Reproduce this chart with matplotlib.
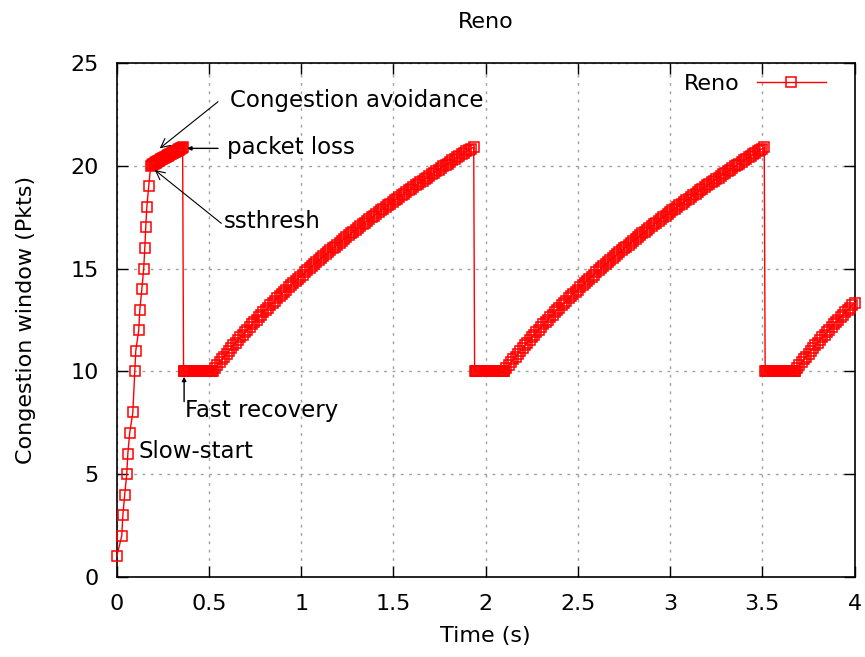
import numpy as np
import matplotlib.pyplot as plt

# slow-start samples (time in s, cwnd in packets)
ss_time = [0.0, 0.027, 0.033, 0.043, 0.054, 0.060, 0.070, 0.087, 0.098, 0.103,
           0.119, 0.125, 0.136, 0.146, 0.152, 0.157, 0.163, 0.173, 0.184]
ss_cwnd = [1, 2, 3, 4, 5, 6, 7, 8, 10, 11, 12, 13, 14, 15, 16, 17, 18, 19, 20]

# first congestion avoidance phase, sampled every 5 ms from t = 0.19 s
ca0_start, ca0_step = 0.19, 0.005
ca0_cwnd = [20.05, 20.07, 20.10, 20.12, 20.15, 20.17, 20.20, 20.22, 20.25, 20.28,
            20.31, 20.33, 20.36, 20.38, 20.41, 20.43, 20.46, 20.48, 20.51, 20.53,
            20.56, 20.58, 20.61, 20.63, 20.66, 20.68, 20.71, 20.73, 20.76, 20.78,
            20.81, 20.83, 20.86, 20.88]

# loss events: time of drop, time fast recovery ends
loss_time = [0.357, 1.935, 3.510]
recovery_end = [0.52, 2.10, 3.675]
sim_end = 4.0
peak_cwnd = 20.9
recovery_cwnd = 10

# cwnd during congestion avoidance, sampled every 12.5 ms after recovery
ramp_step = 0.0125
ramp_cwnd = [10.00, 10.15, 10.29, 10.44, 10.58, 10.72, 10.86, 11.00, 11.13, 11.27,
             11.40, 11.53, 11.65, 11.78, 11.91, 12.03, 12.16, 12.28, 12.40, 12.52,
             12.64, 12.76, 12.87, 12.99, 13.10, 13.22, 13.33, 13.44, 13.55, 13.66,
             13.77, 13.88, 13.98, 14.09, 14.20, 14.30, 14.41, 14.51, 14.61, 14.71,
             14.81, 14.91, 15.01, 15.11, 15.21, 15.31, 15.41, 15.50, 15.60, 15.69,
             15.79, 15.88, 15.98, 16.07, 16.16, 16.26, 16.35, 16.44, 16.53, 16.62,
             16.71, 16.80, 16.89, 16.97, 17.06, 17.15, 17.24, 17.32, 17.41, 17.49,
             17.58, 17.66, 17.75, 17.83, 17.92, 18.00, 18.08, 18.16, 18.25, 18.33,
             18.41, 18.49, 18.57, 18.65, 18.73, 18.81, 18.89, 18.97, 19.05, 19.12,
             19.20, 19.28, 19.36, 19.43, 19.51, 19.59, 19.66, 19.74, 19.82, 19.89,
             19.97, 20.04, 20.11, 20.19, 20.26, 20.34, 20.41, 20.48, 20.56, 20.63,
             20.70, 20.77, 20.84]


def build_trace():
    t = list(ss_time)
    w = list(ss_cwnd)
    t += [ca0_start + i * ca0_step for i in range(len(ca0_cwnd))]
    w += ca0_cwnd
    t.append(loss_time[0])
    w.append(peak_cwnd)
    for i, (tl, tr) in enumerate(zip(loss_time, recovery_end)):
        # window halves and stays flat during fast recovery
        plateau = np.arange(tl + 0.005, tr, 0.005)
        t += list(plateau)
        w += [recovery_cwnd] * len(plateau)
        for k, cw in enumerate(ramp_cwnd):
            tk = tr + k * ramp_step
            if tk > sim_end + 1e-9:
                break
            t.append(tk)
            w.append(cw)
        if i + 1 < len(loss_time):
            t.append(loss_time[i + 1])
            w.append(peak_cwnd)
    return np.array(t), np.array(w)


plt.rcParams["font.family"] = "DejaVu Sans"
plt.rcParams["font.size"] = 16

fig, ax = plt.subplots(figsize=(8.65, 6.57), dpi=100)
fig.subplots_adjust(left=0.135, right=0.988, top=0.904, bottom=0.122)

t, w = build_trace()
ax.plot(t, w, color="red", lw=1.0, marker="s", markersize=6.8,
        markerfacecolor="none", markeredgecolor="red", markeredgewidth=1.1,
        label="Reno", clip_on=False, zorder=3)

ax.set_xlim(0, 4)
ax.set_ylim(0, 25)
ax.set_xticks([0, 0.5, 1, 1.5, 2, 2.5, 3, 3.5, 4])
ax.set_xticklabels(["0", "0.5", "1", "1.5", "2", "2.5", "3", "3.5", "4"])
ax.set_yticks([0, 5, 10, 15, 20, 25])
ax.tick_params(direction="in", length=8, width=1, top=True, right=True)
ax.tick_params(axis="x", pad=12)
ax.tick_params(axis="y", pad=13)
for s in ax.spines.values():
    s.set_linewidth(1.2)
ax.grid(True, linestyle=(0, (2, 4)), color="#a0a0a0", lw=1)

ax.set_title("Reno", fontsize=16, pad=25)
ax.set_xlabel("Time (s)", labelpad=9)
ax.set_ylabel("Congestion window (Pkts)", labelpad=25)

ax.legend(loc="upper right", bbox_to_anchor=(0.973, 0.997), borderaxespad=0,
          frameon=False, markerfirst=False, handlelength=3.1)

# annotations
arrow_open = dict(arrowstyle="->", color="black", lw=0.8, shrinkA=0, shrinkB=0)
arrow_fill = dict(arrowstyle="-|>", color="black", lw=1.0, shrinkA=0, shrinkB=0,
                  mutation_scale=6)
ax.annotate("", xy=(0.233, 20.85), xytext=(0.549, 23.12), arrowprops=arrow_open)
ax.annotate("", xy=(0.206, 19.8), xytext=(0.567, 17.2), arrowprops=arrow_open)
ax.annotate("", xy=(0.381, 20.85), xytext=(0.549, 20.85), arrowprops=arrow_fill)
ax.annotate("", xy=(0.365, 9.74), xytext=(0.365, 8.53), arrowprops=arrow_fill)

note_kw = dict(va="center", ha="left", fontsize=16.5)
ax.text(0.612, 23.2, "Congestion avoidance", **note_kw)
ax.text(0.596, 20.9, "packet loss", **note_kw)
ax.text(0.580, 17.3, "ssthresh", **note_kw)
ax.text(0.369, 8.07, "Fast recovery", **note_kw)
ax.text(0.119, 6.08, "Slow-start", **note_kw)

fig.savefig("out.png", dpi=100)
